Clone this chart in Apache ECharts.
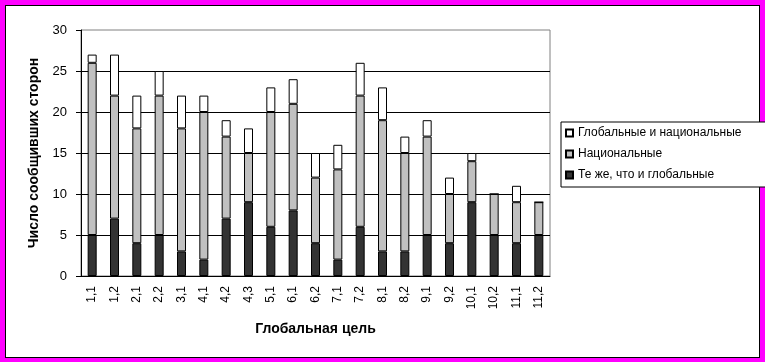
<!DOCTYPE html>
<html>
<head>
<meta charset="utf-8">
<script src="https://cdn.jsdelivr.net/npm/echarts@6/dist/echarts.min.js"></script>
<style>
html,body{margin:0;padding:0;background:#FF00FF;width:765px;height:362px;overflow:hidden;}
#frame{position:absolute;left:5px;top:5px;width:755px;height:353px;box-sizing:border-box;border:1px solid #000;background:#fff;}
#chart{position:absolute;left:0;top:0;width:765px;height:362px;}
</style>
</head>
<body>
<div id="frame"></div>
<div id="chart"></div>
<script>
var categories = ['1,1','1,2','2,1','2,2','3,1','4,1','4,2','4,3','5,1','6,1','6,2','7,1','7,2','8,1','8,2','9,1','9,2','10,1','10,2','11,1','11,2'];
var sameAsGlobal = [5,7,4,5,3,2,7,9,6,8,4,2,6,3,3,5,4,9,5,4,5];
var nationalOnly = [21,15,14,17,15,18,10,6,14,13,8,11,16,16,12,12,6,5,5,5,4];
var globalAndNational = [1,5,4,3,4,2,2,3,3,3,3,3,4,4,2,2,2,1,0,2,0];
var yTicks = [0,5,10,15,20,25,30];

var FONT = '"Liberation Sans", Arial, sans-serif';
var chart = echarts.init(document.getElementById('chart'), null, {renderer:'canvas'});
function bar(name, data, color){
  return {
    name: name, type: 'bar', stack: 'total', data: data, barWidth: 9,
    itemStyle: {color: color, borderColor: '#000', borderWidth: 1},
    emphasis: {disabled: true}
  };
}
chart.setOption({
  animation: false,
  backgroundColor: 'transparent',
  textStyle: {fontFamily: FONT},
  grid: {left: 81, right: 215, top: 30, bottom: 86, show: true, borderColor: '#808080', borderWidth: 1, backgroundColor: 'transparent'},
  legend: {
    orient: 'vertical', left: 561, top: 122,
    data: ['Глобальные и национальные', 'Национальные', 'Те же, что и глобальные'],
    icon: 'rect', itemWidth: 7, itemHeight: 7, itemGap: 7,
    padding: [4, 30, 5, 4],
    borderColor: '#000', borderWidth: 1, backgroundColor: '#fff',
    textStyle: {fontFamily: FONT, fontSize: 12, color: '#000', lineHeight: 14},
    selectedMode: false
  },
  xAxis: {
    type: 'category', data: categories,
    name: 'Глобальная цель', nameLocation: 'middle', nameGap: 46,
    nameTextStyle: {fontFamily: FONT, fontSize: 14, fontWeight: 'bold', color: '#000'},
    axisLine: {lineStyle: {color: '#000', width: 1}},
    axisTick: {show: false},
    axisLabel: {rotate: 90, interval: 0, fontSize: 12, color: '#000', margin: 10, fontFamily: FONT}
  },
  yAxis: {
    type: 'value', min: 0, max: 30, interval: 5,
    name: 'Число сообщивших сторон', nameLocation: 'middle', nameGap: 40,
    nameTextStyle: {fontFamily: FONT, fontSize: 14, fontWeight: 'bold', color: '#000'},
    axisLine: {show: true, lineStyle: {color: '#000', width: 1}},
    axisTick: {show: true, length: 5, lineStyle: {color: '#000'}},
    axisLabel: {fontSize: 13, color: '#000', margin: 14, fontFamily: FONT,
      formatter: function(v){ return yTicks.indexOf(v) >= 0 ? String(v) : ''; }},
    splitLine: {show: true, showMaxLine: false, lineStyle: {color: '#000', width: 1}}
  },
  series: [
    bar('Те же, что и глобальные', sameAsGlobal, '#333333'),
    bar('Национальные', nationalOnly, '#C0C0C0'),
    bar('Глобальные и национальные', globalAndNational, '#FFFFFF')
  ]
});
</script>
</body>
</html>
